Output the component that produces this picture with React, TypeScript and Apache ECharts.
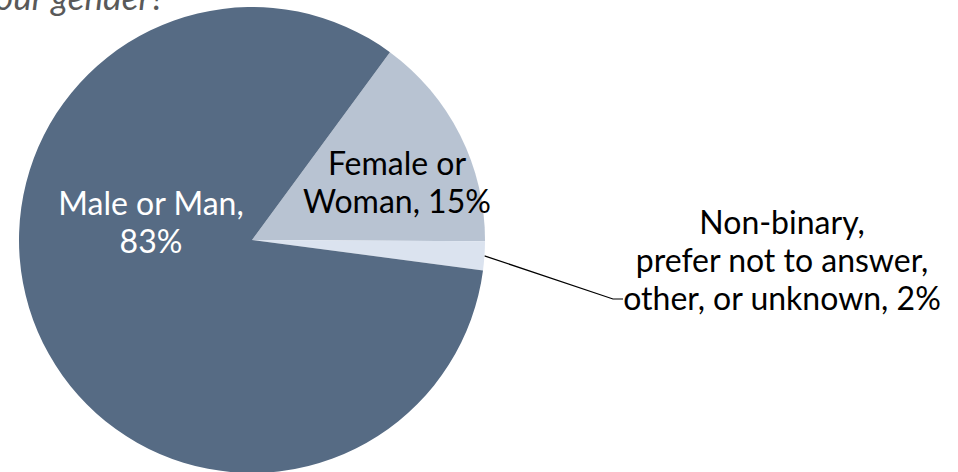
import React, { useEffect, useRef } from 'react';
import * as echarts from 'echarts';

const titleText = 'What is your gender?';
const categories = ['Female or Woman', 'Non-binary, prefer not to answer, other, or unknown', 'Male or Man'];
const labelTexts = ['Female or\nWoman, ', 'Non-binary,\nprefer not to answer,\nother, or unknown, ', 'Male or Man,\n'];
const values = [15, 2, 83];
const colors = ['#b8c3d2', '#dbe3ef', '#566b84'];
const labelColors = ['#000000', '#000000', '#ffffff'];

export default function App() {
  const ref = useRef<HTMLDivElement>(null);
  useEffect(() => {
    if (!ref.current) return;
    const chart = echarts.init(ref.current, null, { renderer: 'svg' });
    const font = 'Lato, "Open Sans", sans-serif';
    chart.setOption({
      animation: false,
      backgroundColor: '#ffffff',
      graphic: [
        {
          type: 'text',
          x: 165,
          y: 13,
          style: {
            text: titleText,
            textAlign: 'right',
            textVerticalAlign: 'bottom',
            fontFamily: font,
            fontStyle: 'italic',
            fontSize: 35,
            fill: '#595959',
          },
        },
      ],
      series: [
        {
          type: 'pie',
          center: [252, 240],
          radius: [0, 233],
          startAngle: 53.7,
          clockwise: true,
          avoidLabelOverlap: false,
          itemStyle: { borderWidth: 0 },
          label: {
            show: true,
            fontFamily: font,
            fontSize: 32,
            lineHeight: 38,
            color: '#000',
            align: 'center',
          },
          labelLine: {
            show: true,
            length: 20,
            length2: 10,
            lineStyle: { color: '#000', width: 1.2 },
          },
          labelLayout: (params: any) => {
            if (params.dataIndex === 0) {
              return { x: 397, y: 181, align: 'center', verticalAlign: 'middle' };
            }
            if (params.dataIndex === 2) {
              return { x: 151, y: 221, align: 'center', verticalAlign: 'middle' };
            }
            const p0 = params.labelLinePoints ? params.labelLinePoints[0] : [485, 257];
            return {
              x: 782,
              y: 259,
              align: 'center',
              verticalAlign: 'middle',
              labelLinePoints: [p0, [613, 299], [623, 299]],
            };
          },
          data: categories.map((name, i) => ({
            name,
            value: values[i],
            itemStyle: { color: colors[i] },
            label: {
              position: i === 1 ? 'outside' : 'inside',
              color: labelColors[i],
              formatter: () => labelTexts[i] + values[i] + '%',
            },
            labelLine: { show: i === 1 },
          })),
        },
      ],
    });
    return () => chart.dispose();
  }, []);
  return (
    <div
      ref={ref}
      style={{ position: 'absolute', left: 0, top: 0, width: 958, height: 472 }}
    />
  );
}
